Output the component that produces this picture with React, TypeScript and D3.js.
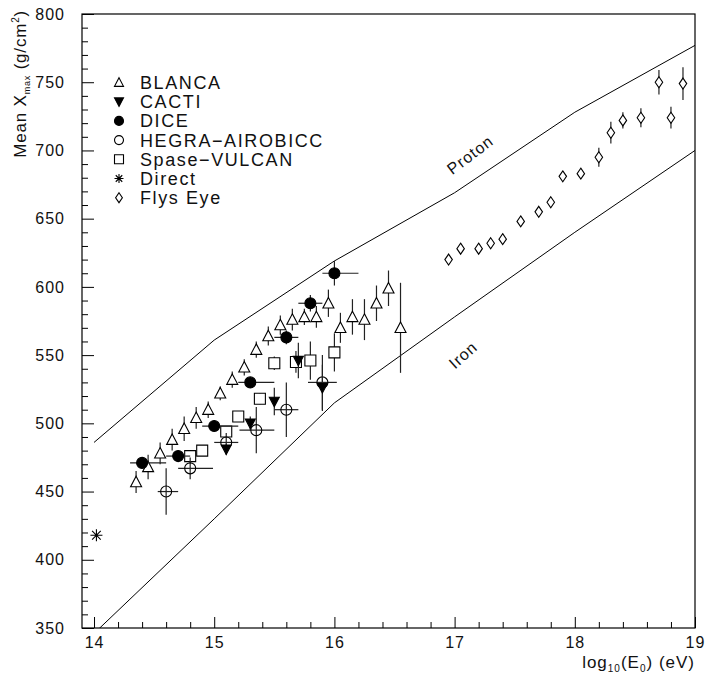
import React, { useEffect, useRef } from "react";
import * as d3 from "d3";

// model curves
const modelE = [14, 15, 16, 17, 18, 19];
const protonXmax = [486, 561, 619, 669, 728, 777];
const ironXmax = [346, 430, 515, 578, 640, 700];

// BLANCA
const blancaE = [14.35, 14.45, 14.55, 14.65, 14.75, 14.85, 14.95, 15.05, 15.15, 15.25, 15.35, 15.45, 15.55, 15.65, 15.75, 15.85, 15.95, 16.05, 16.15, 16.25, 16.35, 16.45, 16.55];
const blancaXmax = [457, 468, 478, 488, 496, 504, 510, 522, 532, 541, 554, 564, 572, 576, 578, 578, 588, 570, 578, 576, 588, 599, 570];
const blancaErr = [8, 9, 8, 8, 9, 8, 6, 5, 6, 6, 6, 7, 7, 8, 6, 8, 10, 11, 13, 15, 13, 13, 33];

// CACTI
const cactiE = [15.1, 15.3, 15.5, 15.7, 15.9];
const cactiXmax = [481, 500, 516, 546, 526];
const cactiErr = [4, 5, 10, 13, 17];

// DICE
const diceE = [14.4, 14.7, 15.0, 15.3, 15.6, 15.8, 16.0];
const diceXmax = [471, 476, 498, 530, 563, 588, 610];
const diceErr = [4, 4, 4, 4, 5, 6, 9];
const diceElo = [0.1, 0.1, 0.1, 0.1, 0.1, 0.1, 0.1];
const diceEhi = [0.2, 0.1, 0.2, 0.2, 0.1, 0.1, 0.2];

// HEGRA-AIROBICC
const hegraE = [14.6, 14.8, 15.1, 15.35, 15.6, 15.9];
const hegraXmax = [450, 467, 486, 495, 510, 530];
const hegraErr = [17, 8, 7, 17, 20, 20];
const hegraElo = [0.07, 0.1, 0.1, 0.14, 0.1, 0.12];
const hegraEhi = [0.1, 0.19, 0.1, 0.15, 0.1, 0.12];

// Spase-VULCAN
const spaseE = [14.8, 14.9, 15.1, 15.2, 15.38, 15.5, 15.68, 15.8, 16.0];
const spaseXmax = [476, 480, 494, 505, 518, 544, 545, 546, 552];
const spaseErr = [3, 3, 3, 3, 4, 5, 8, 14, 14];

// Direct
const directE = [14.02];
const directXmax = [418];

// Flys Eye
const flysE = [16.95, 17.05, 17.2, 17.3, 17.4, 17.55, 17.7, 17.8, 17.9, 18.05, 18.2, 18.3, 18.4, 18.55, 18.7, 18.8, 18.9];
const flysXmax = [620, 628, 628, 632, 635, 648, 655, 662, 681, 683, 695, 713, 722, 724, 750, 724, 749];
const flysErr = [2, 2, 2, 2, 2, 2, 2, 2, 2, 2, 7, 8, 6, 7, 9, 8, 12];

const legendNames = ["BLANCA", "CACTI", "DICE", "HEGRA\u2212AIROBICC", "Spase\u2212VULCAN", "Direct", "Flys Eye"];
const legendKinds = ["tri", "tridown", "dot", "circle", "square", "star", "diamond"];

const xMajor = [14, 15, 16, 17, 18, 19];
const yMajor = [350, 400, 450, 500, 550, 600, 650, 700, 750, 800];

const FONT = "'Liberation Sans', Arial, Helvetica, sans-serif";

// marker path centred at 0,0, s = nominal size in px
const markerPath = (kind: string, s: number): string => {
  const h = s / 2;
  switch (kind) {
    case "tri":
      return `M0,${-h * 1.05}L${h},${h * 0.85}L${-h},${h * 0.85}Z`;
    case "tridown":
      return `M0,${h * 1.05}L${h},${-h * 0.85}L${-h},${-h * 0.85}Z`;
    case "square":
      return `M${-h},${-h}H${h}V${h}H${-h}Z`;
    case "diamond":
      return `M0,${-h * 1.1}L${h * 0.75},0L0,${h * 1.1}L${-h * 0.75},0Z`;
    case "star": {
      const d = h * 0.72;
      return `M0,${-h}V${h}M${-h},0H${h}M${-d},${-d}L${d},${d}M${-d},${d}L${d},${-d}`;
    }
    default:
      return d3.arc()({ innerRadius: 0, outerRadius: h, startAngle: 0, endAngle: 2 * Math.PI }) as string;
  }
};

const markerStyle = (kind: string) => {
  if (kind === "tridown" || kind === "dot") return { fill: "#000", stroke: "#000" };
  if (kind === "circle") return { fill: "none", stroke: "#000" };
  if (kind === "star") return { fill: "none", stroke: "#000" };
  return { fill: "#fff", stroke: "#000" };
};

const App = () => {
  const svgRef = useRef<SVGSVGElement>(null);

  useEffect(() => {
    const W = 706;
    const H = 680;
    const left = 82, right = 695, top = 14, bottom = 628;

    const svg = d3.select(svgRef.current).attr("width", W).attr("height", H);
    svg.selectAll("*").remove();

    const x = d3.scaleLinear().domain([13.9, 19]).range([left, right]);
    const y = d3.scaleLinear().domain([350, 800]).range([bottom, top]);

    svg.append("defs").append("clipPath").attr("id", "plotclip")
      .append("rect").attr("x", left).attr("y", top).attr("width", right - left).attr("height", bottom - top);

    // axes (ROOT style: ticks point inwards)
    const xMinor = d3.range(14, 19.001, 0.2).filter((v) => Math.abs(v - Math.round(v)) > 0.01);
    const yMinor = d3.range(350, 801, 10).filter((v) => v % 50 !== 0);

    const styleAxis = (g: d3.Selection<SVGGElement, unknown, null, undefined>) => {
      g.select(".domain").remove();
      g.selectAll("line").attr("stroke", "#000").attr("stroke-width", 1);
      g.selectAll("text")
        .attr("font-family", FONT)
        .attr("font-size", 16)
        .attr("letter-spacing", 1)
        .attr("fill", "#111");
    };

    svg.append("g").attr("transform", `translate(0,${bottom})`)
      .call(d3.axisBottom(x).tickValues(xMinor).tickSize(-6).tickFormat(() => ""))
      .call(styleAxis);
    svg.append("g").attr("transform", `translate(0,${bottom})`)
      .call(d3.axisBottom(x).tickValues(xMajor).tickSize(-11).tickPadding(9).tickFormat(d3.format("d")))
      .call(styleAxis);
    svg.append("g").attr("transform", `translate(${left},0)`)
      .call(d3.axisLeft(y).tickValues(yMinor).tickSize(-6).tickFormat(() => ""))
      .call(styleAxis);
    svg.append("g").attr("transform", `translate(${left},0)`)
      .call(d3.axisLeft(y).tickValues(yMajor).tickSize(-12).tickPadding(17).tickFormat(d3.format("d")))
      .call(styleAxis);

    // frame
    svg.append("rect")
      .attr("x", left).attr("y", top)
      .attr("width", right - left).attr("height", bottom - top)
      .attr("fill", "none").attr("stroke", "#000").attr("stroke-width", 1.2);

    // axis titles
    const xt = svg.append("text")
      .attr("x", right).attr("y", 668)
      .attr("text-anchor", "end").attr("fill", "#111")
      .attr("font-family", FONT).attr("font-size", 17).attr("letter-spacing", 1);
    xt.append("tspan").text("log");
    xt.append("tspan").attr("font-size", 10).attr("dy", 4).text("10");
    xt.append("tspan").attr("dy", -4).text("(E");
    xt.append("tspan").attr("font-size", 10).attr("dy", 4).text("0");
    xt.append("tspan").attr("dy", -4).text(") (eV)");

    const yt = svg.append("text")
      .attr("transform", `translate(26,10) rotate(-90)`)
      .attr("text-anchor", "end").attr("fill", "#111")
      .attr("font-family", FONT).attr("font-size", 17).attr("letter-spacing", 0.8);
    yt.append("tspan").text("Mean X");
    yt.append("tspan").attr("font-size", 9).attr("dy", 4).text("max");
    yt.append("tspan").attr("dy", -4).text(" (g/cm");
    yt.append("tspan").attr("font-size", 10).attr("dy", -7).text("2");
    yt.append("tspan").attr("dy", 7).text(")");

    // model curves
    const plot = svg.append("g").attr("clip-path", "url(#plotclip)");
    const line = d3.line<number>().x((_, i) => x(modelE[i])).y((d) => y(d));
    plot.append("path").attr("d", line(protonXmax)).attr("fill", "none").attr("stroke", "#000").attr("stroke-width", 1);
    plot.append("path").attr("d", line(ironXmax)).attr("fill", "none").attr("stroke", "#000").attr("stroke-width", 1);

    svg.append("text")
      .attr("transform", `translate(471,156) rotate(-37)`)
      .attr("text-anchor", "middle").attr("dominant-baseline", "middle").attr("fill", "#111")
      .attr("font-family", FONT).attr("font-size", 16).attr("letter-spacing", 1)
      .text("Proton");
    svg.append("text")
      .attr("transform", `translate(464,356) rotate(-42)`)
      .attr("text-anchor", "middle").attr("dominant-baseline", "middle").attr("fill", "#111")
      .attr("font-family", FONT).attr("font-size", 16).attr("letter-spacing", 1)
      .text("Iron");

    // data series
    const errColor = "#222";
    const drawSeries = (
      es: number[], vs: number[], kind: string, size: number,
      yerr?: number[], elo?: number[], ehi?: number[]
    ) => {
      const g = plot.append("g");
      es.forEach((e, i) => {
        const cx = x(e), cy = y(vs[i]);
        if (yerr) {
          g.append("line").attr("x1", cx).attr("x2", cx)
            .attr("y1", y(vs[i] - yerr[i])).attr("y2", y(vs[i] + yerr[i]))
            .attr("stroke", errColor).attr("stroke-width", 1.2);
        }
        if (elo && ehi) {
          g.append("line").attr("y1", cy).attr("y2", cy)
            .attr("x1", x(e - elo[i])).attr("x2", x(e + ehi[i]))
            .attr("stroke", errColor).attr("stroke-width", 1.2);
        }
      });
      const st = markerStyle(kind);
      g.selectAll("path.m")
        .data(es)
        .enter()
        .append("path")
        .attr("class", "m")
        .attr("transform", (e, i) => `translate(${x(e)},${y(vs[i])})`)
        .attr("d", markerPath(kind, size))
        .attr("fill", st.fill)
        .attr("stroke", st.stroke)
        .attr("stroke-width", 1.1);
    };

    drawSeries(spaseE, spaseXmax, "square", 11, spaseErr);
    drawSeries(hegraE, hegraXmax, "circle", 11, hegraErr, hegraElo, hegraEhi);
    drawSeries(cactiE, cactiXmax, "tridown", 10, cactiErr);
    drawSeries(blancaE, blancaXmax, "tri", 11, blancaErr);
    drawSeries(diceE, diceXmax, "dot", 11, diceErr, diceElo, diceEhi);
    drawSeries(directE, directXmax, "star", 12);
    drawSeries(flysE, flysXmax, "diamond", 10, flysErr);

    // legend
    const lg = svg.append("g");
    legendNames.forEach((name, i) => {
      const ly = 82.5 + i * 19.2;
      const st = markerStyle(legendKinds[i]);
      lg.append("path")
        .attr("transform", `translate(119,${ly})`)
        .attr("d", markerPath(legendKinds[i], 9))
        .attr("fill", st.fill).attr("stroke", st.stroke).attr("stroke-width", 1.1);
      lg.append("text")
        .attr("x", 140).attr("y", ly + 6.5).attr("fill", "#111")
        .attr("font-family", FONT).attr("font-size", 18).attr("letter-spacing", 1.6)
        .text(name);
    });
  }, []);

  return (
    <div style={{ position: "absolute", left: 0, top: 0 }}>
      <svg ref={svgRef} style={{ display: "block", background: "#fff" }}></svg>
    </div>
  );
};

export default App;
